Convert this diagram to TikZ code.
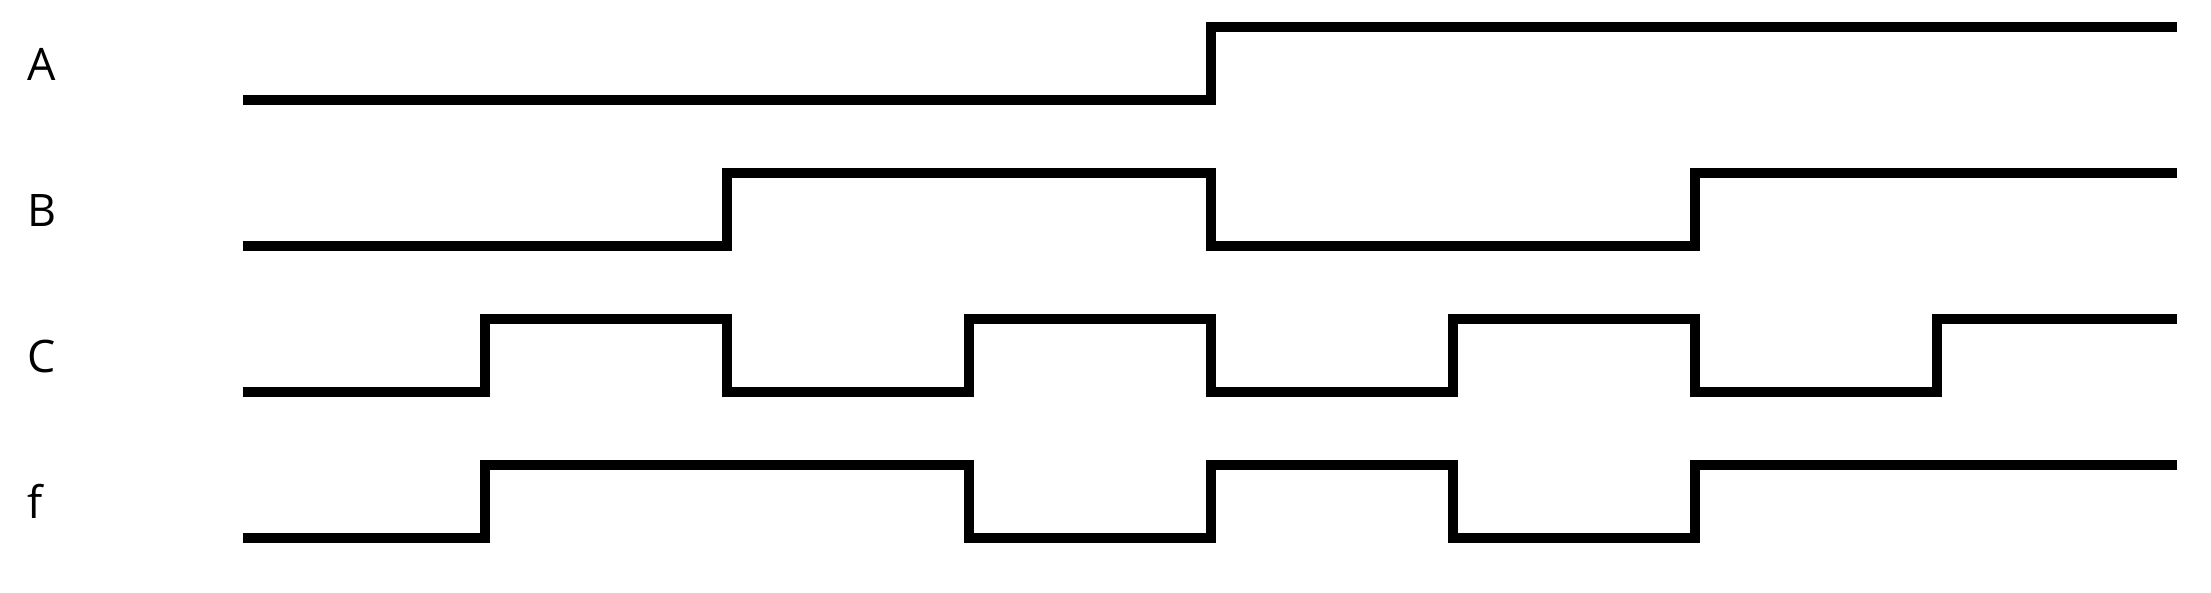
\documentclass[tikz,border=0pt]{standalone}
\usepackage{fontspec}
\setmainfont{Open Sans}
\usepackage{tikz}

\tikzset{
  wave/.style={line width=7.5pt, line join=miter, line cap=butt},
  siglabel/.style={anchor=base west, inner sep=0pt, font=\fontsize{33.6}{40}\selectfont}
}

\begin{document}
\begin{tikzpicture}[x=0.75pt,y=0.75pt,yscale=-1,xscale=1]
\useasboundingbox (0,0) rectangle (2211,592);

%Labels
\node[siglabel] (labA) at (27,80) {A};
\node[siglabel] (labB) at (27,226) {B};
\node[siglabel] (labC) at (27,372) {C};
\node[siglabel] (labf) at (27,518) {f};

%Signal A
\draw [wave] (243,100) -- (1211,100) -- (1211,27) -- (2177,27) ;

%Signal B
\draw [wave] (243,246) -- (727,246) -- (727,173) -- (1211,173) -- (1211,246) -- (1695,246) -- (1695,173) -- (2177,173) ;

%Signal C
\draw [wave] (243,392) -- (485,392) -- (485,319) -- (727,319) -- (727,392) -- (969,392) -- (969,319) -- (1211,319) -- (1211,392) -- (1453,392) -- (1453,319) -- (1695,319) -- (1695,392) -- (1937,392) -- (1937,319) -- (2177,319) ;

%Signal f
\draw [wave] (243,538) -- (485,538) -- (485,465) -- (969,465) -- (969,538) -- (1211,538) -- (1211,465) -- (1453,465) -- (1453,538) -- (1695,538) -- (1695,465) -- (2177,465) ;

\end{tikzpicture}
\end{document}
